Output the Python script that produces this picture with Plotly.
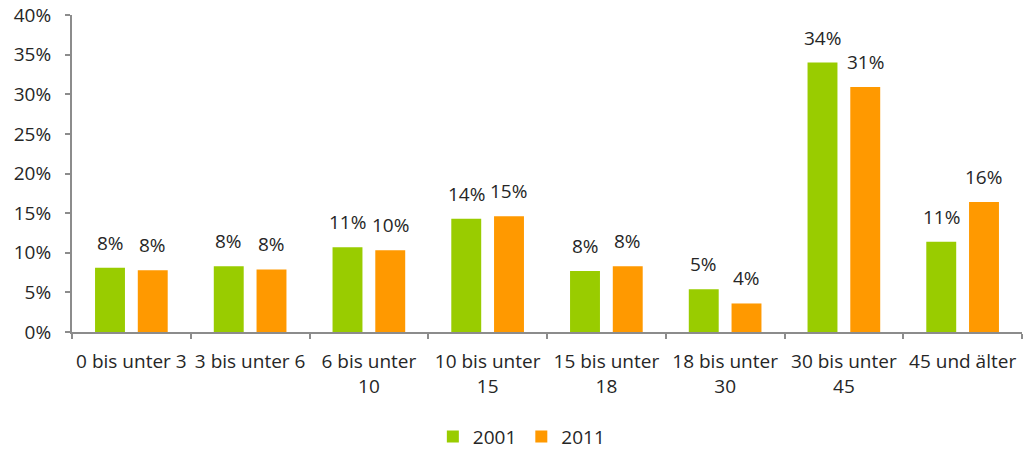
import plotly.graph_objects as go

categories = ["0 bis unter 3", "3 bis unter 6", "6 bis unter<br>10", "10 bis unter<br>15",
              "15 bis unter<br>18", "18 bis unter<br>30", "30 bis unter<br>45", "45 und älter"]
values_2001 = [8.1, 8.3, 10.7, 14.3, 7.7, 5.4, 34.0, 11.4]
values_2011 = [7.8, 7.9, 10.3, 14.6, 8.3, 3.6, 30.9, 16.4]
series_names = ["2001", "2011"]
colors = ["#99CC00", "#FF9900"]
y_ticks = [0, 5, 10, 15, 20, 25, 30, 35, 40]
y_ticktext = [f"{v}%" for v in y_ticks]

FONT = "Open Sans"
FS = 19
TXT = "#262626"
AXC = "#8c8c8c"

fig = go.Figure()
for name, vals, col in zip(series_names, [values_2001, values_2011], colors):
    fig.add_trace(go.Bar(x=categories, y=vals, name=name, marker_color=col,
                         marker_line_width=0))

# data labels above the bars
for vals, shift in zip([values_2001, values_2011], [-21.3, 21.3]):
    for c, v in zip(categories, vals):
        fig.add_annotation(x=c, y=v, xref="x", yref="y", text=f"{round(v):d}%",
                           showarrow=False, yanchor="bottom", xshift=shift, yshift=10,
                           font=dict(family=FONT, size=FS, color=TXT))

fig.update_layout(
    width=1023, height=452,
    margin=dict(l=72, r=1, t=15, b=120, autoexpand=False),
    paper_bgcolor="white", plot_bgcolor="white",
    barmode="group", bargap=0.28, bargroupgap=0.30,
    font=dict(family=FONT, size=FS, color=TXT),
    showlegend=True,
    legend=dict(orientation="h", x=0.473, xanchor="center", y=-0.27, yanchor="top",
                font=dict(family=FONT, size=FS, color=TXT), itemwidth=30,
                traceorder="normal"),
)
fig.update_yaxes(range=[0, 40], tickmode="array", tickvals=y_ticks, ticktext=y_ticktext,
                 showgrid=False, showline=True, linecolor=AXC, linewidth=2,
                 ticks="outside", ticklen=5, tickcolor=AXC, tickwidth=2, zeroline=False,
                 ticklabelstandoff=10,
                 tickfont=dict(family=FONT, size=FS, color=TXT))
fig.update_xaxes(showline=True, linecolor=AXC, linewidth=2, ticks="outside", ticklen=5,
                 tickcolor=AXC, tickwidth=2, tickson="boundaries", showgrid=False,
                 tickangle=0, ticklabelstandoff=11,
                 tickfont=dict(family=FONT, size=FS, color=TXT))

fig.write_html("out.html", config={"displayModeBar": False},
               post_script="document.body.style.margin='0';")
